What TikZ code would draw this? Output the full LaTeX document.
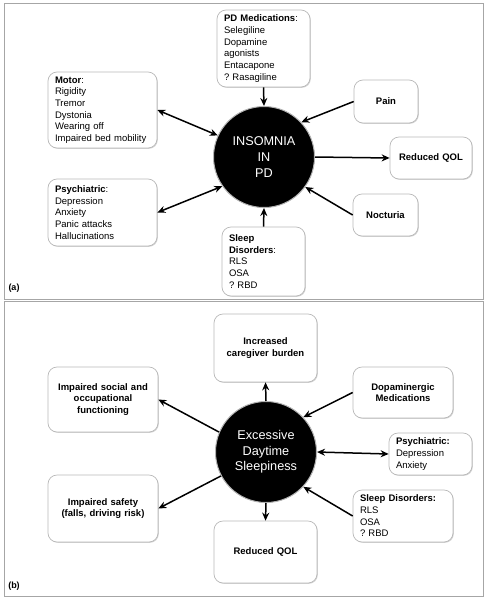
\documentclass[tikz,border=0pt]{standalone}
\usepackage{fontspec}
\setmainfont{Liberation Sans}
\frenchspacing
\usetikzlibrary{arrows.meta,shadows}
\tikzset{>={Stealth[length=8pt,width=7pt]}}
\tikzset{
  box/.style={draw=gray!55, line width=0.7pt, rounded corners=9pt, fill=white,
    drop shadow={shadow xshift=0.8pt, shadow yshift=-0.8pt, fill=gray!60, opacity=0.6},
    inner xsep=7pt, inner ysep=2pt, font=\fontsize{9.5}{11.7}\selectfont},
  listbox/.style={box, align=left},
  headbox/.style={box, align=center, font=\fontsize{9.5}{11.7}\selectfont\bfseries},
  hub/.style={circle, fill=black, draw=gray!60, line width=1pt, minimum size=101pt,
    inner sep=0pt, text=white, align=center, font=\fontsize{12.7}{15.7}\selectfont},
  link/.style={line width=1.5pt},
  panel/.style={draw=gray!70, line width=0.8pt},
  tag/.style={font=\fontsize{9}{11}\selectfont\bfseries}
}
\begin{document}
\begin{tikzpicture}[x=1pt,y=-1pt]
  \useasboundingbox (0,0) rectangle (487,600);
  \draw[panel] (4,3) rectangle (483,299);
  \draw[panel] (4,301) rectangle (483,596);

  % (a)
  \node [hub] (insom) at (264,157) {INSOMNIA\\IN\\PD};

  \node [listbox,
    text width=79pt,
    minimum height=77pt
  ] (pdmed) at (263.5,48.5) {\textbf{PD Medications}:\\Selegiline\\Dopamine\\agonists\\Entacapone\\? Rasagiline};

  \node [listbox,
    text width=95pt,
    minimum height=76pt
  ] (motor) at (102.5,110) {\textbf{Motor}:\\Rigidity\\Tremor\\Dystonia\\Wearing off\\Impaired bed mobility};

  \node [headbox,
    text width=50pt,
    minimum height=43pt
  ] (pain) at (386,101.5) {Pain};

  \node [headbox,
    text width=68pt,
    minimum height=42pt
  ] (qol) at (431,158) {Reduced QOL};

  \node [listbox,
    text width=95pt,
    minimum height=67pt
  ] (psych) at (102.5,212.5) {\textbf{Psychiatric}:\\Depression\\Anxiety\\Panic attacks\\Hallucinations};

  \node [headbox,
    text width=51pt,
    minimum height=42pt
  ] (noct) at (385.5,215) {Nocturia};

  \node [listbox,
    text width=69pt,
    minimum height=69pt
  ] (sleep) at (263.5,261.5) {\textbf{Sleep}\\\textbf{Disorders}:\\RLS\\OSA\\? RBD};

  \node [tag] (taga) at (14,288) {(a)};

  \draw[link,->] (pdmed.south) -- (insom.north);
  \draw[link,<->] (motor.east) -- (insom.155);
  \draw[link,->] (pain.west) -- (insom.43);
  \draw[link,->] (insom.east) -- (qol.west);
  \draw[link,->] (noct.west) -- (insom.-36);
  \draw[link,->] (sleep.north) -- (insom.south);
  \draw[link,<->] (psych.east) -- (insom.215);

  % (b)
  \node [hub] (eds) at (266,452) {Excessive\\Daytime\\Sleepiness};

  \node [headbox,
    text width=89pt,
    minimum height=68pt
  ] (burden) at (265.5,348) {Increased\\caregiver burden};

  \node [headbox,
    text width=96pt,
    minimum height=65pt
  ] (social) at (103,399.5) {Impaired social and\\occupational\\functioning};

  \node [headbox,
    text width=86pt,
    minimum height=51pt
  ] (dopa) at (403,392.5) {Dopaminergic\\Medications};

  \node [listbox,
    text width=69pt,
    minimum height=42pt
  ] (psychb) at (430.5,454) {\textbf{Psychiatric:}\\Depression\\Anxiety};

  \node [headbox,
    text width=96pt,
    minimum height=67pt
  ] (safety) at (103,508.5) {Impaired safety\\(falls, driving risk)};

  \node [listbox,
    text width=86pt,
    minimum height=52pt
  ] (sleepb) at (403,516) {\textbf{Sleep Disorders:}\\RLS\\OSA\\? RBD};

  \node [headbox,
    text width=89pt,
    minimum height=62pt
  ] (qolb) at (265.5,552) {Reduced QOL};

  \node [tag] (tagb) at (14,586) {(b)};

  \draw[link,->] (eds.north) -- (burden.south);
  \draw[link,->] (eds.157) -- (social.east);
  \draw[link,->] (dopa.west) -- (eds.43);
  \draw[link,<->] (eds.east) -- (psychb.west);
  \draw[link,->] (sleepb.west) -- (eds.-43);
  \draw[link,->] (eds.208) -- (safety.east);
  \draw[link,->] (eds.south) -- (qolb.north);
\end{tikzpicture}
\end{document}
